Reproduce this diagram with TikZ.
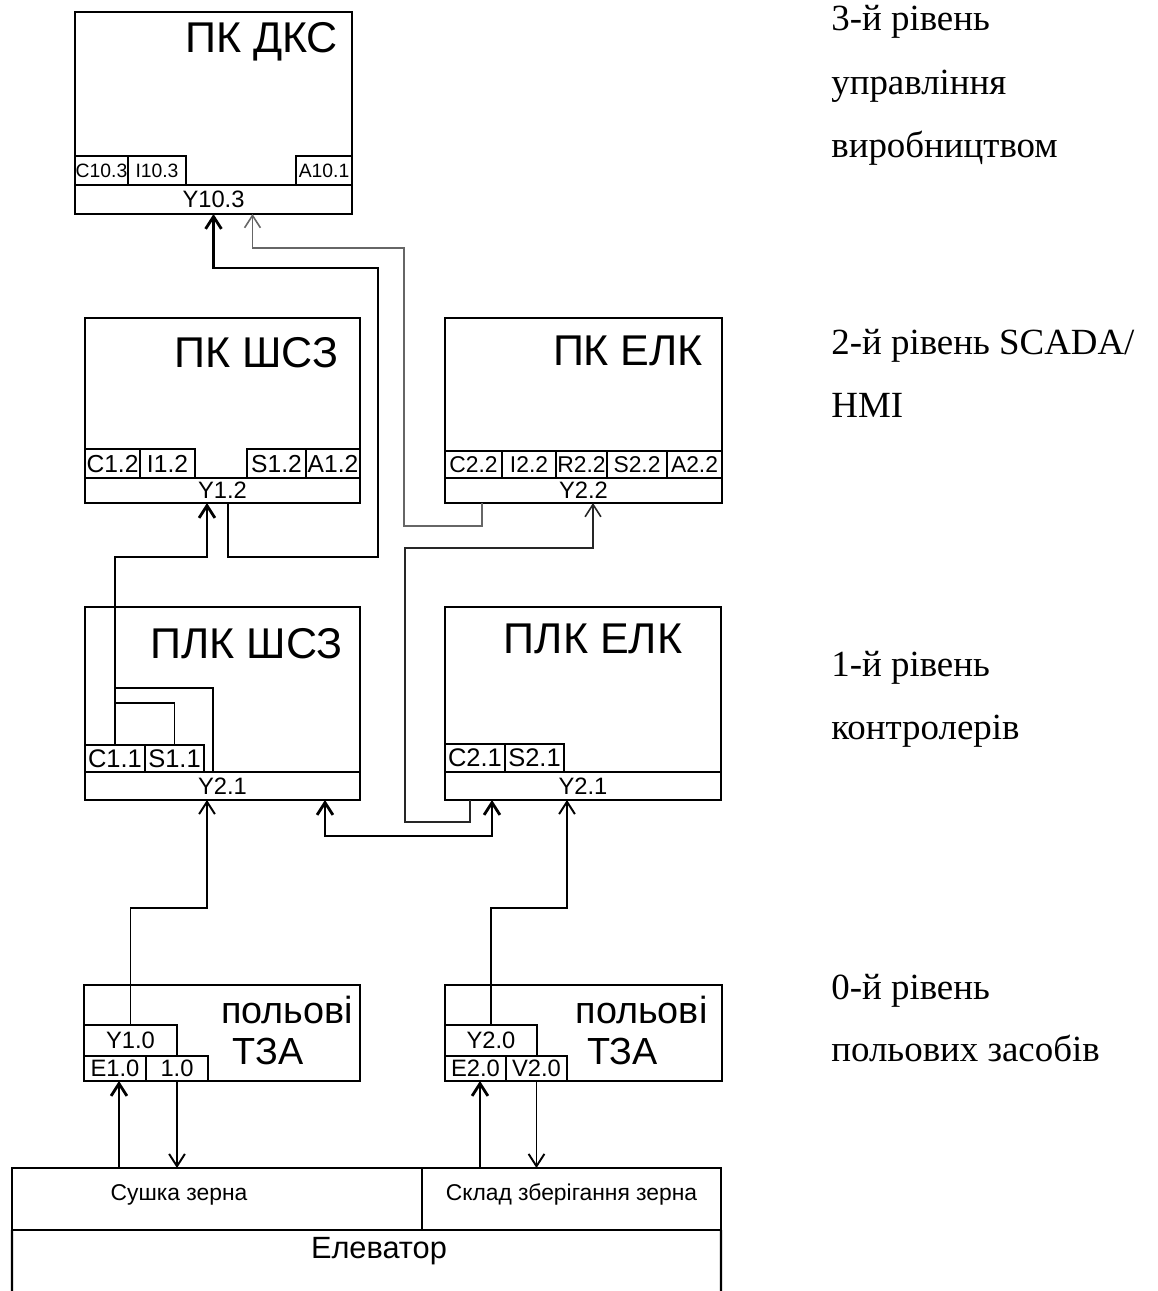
\documentclass[tikz,border=0pt]{standalone}
\usepackage{fontspec}
\setmainfont{Liberation Serif}
\setsansfont{Liberation Sans}
\usetikzlibrary{arrows.meta,positioning,calc}

\newcommand\unitpx{0.02cm}

\begin{document}
\begin{tikzpicture}[x=0.02cm,y=-0.02cm]
  \tikzset{
    box/.style={draw,line width=1.3pt,anchor=north west,inner sep=0pt,outer sep=0pt},
    cell/.style={draw,line width=1.3pt,anchor=north west,inner sep=0pt,outer sep=0pt,
      text depth=0pt,font=\sffamily\fontsize{13.5}{13.5}\selectfont},
    title/.style={anchor=base,inner sep=0pt,font=\sffamily\fontsize{24.5}{24.5}\selectfont},
    level/.style={anchor=base west,inner sep=0pt,font=\fontsize{21}{21}\selectfont},
    bus/.style={line width=1.6pt,-{Straight Barb[length=7pt,width=9pt]}},
    wire/.style={line width=1.1pt,-{Straight Barb[length=7pt,width=9pt]}},
    grey/.style={line width=0.9pt,gray!80!black,-{Straight Barb[length=7pt,width=9pt]}},
    tap/.style={line width=1.1pt},
  }
  \useasboundingbox (0,0) rectangle (1157,1291);

  % 3-й рівень
  \node[box,minimum width=277*\unitpx,minimum height=202*\unitpx] (dks) at (75,12) {};
  \node[title] (dksT) at (261.5,53) {ПК ДКС};
  \node[cell,minimum width=277*\unitpx,minimum height=29*\unitpx] (dksY) at (75,185) {Y10.3};
  \foreach \n/\t/\x/\w in {c/C10.3/75/53, i/I10.3/128/58, a/A10.1/296/56}
    \node[cell,font=\sffamily\fontsize{11}{11}\selectfont,minimum width=\w*\unitpx,
      minimum height=29*\unitpx] (dks\n) at (\x,156) {\t};

  % 2-й рівень
  \node[box,minimum width=275*\unitpx,minimum height=185*\unitpx] (shs) at (85,318) {};
  \node[title] (shsT) at (256.5,367) {ПК ШСЗ};
  \node[cell,minimum width=275*\unitpx,minimum height=25*\unitpx] (shsY) at (85,478) {Y1.2};
  \foreach \n/\t/\x/\w in {c/C1.2/85/55, i/I1.2/140/55, s/S1.2/247/59, a/A1.2/306/54}
    \node[cell,font=\sffamily\fontsize{14}{14}\selectfont,minimum width=\w*\unitpx,
      minimum height=29*\unitpx] (shs\n) at (\x,449) {\t};

  \node[box,minimum width=277*\unitpx,minimum height=185*\unitpx] (elk) at (445,318) {};
  \node[title] (elkT) at (628,365) {ПК ЕЛК};
  \node[cell,minimum width=277*\unitpx,minimum height=25*\unitpx] (elkY) at (445,478) {Y2.2};
  \foreach \n/\t/\x/\w in {c/C2.2/445/57, i/I2.2/502/54, r/R2.2/556/51, s/S2.2/607/60, a/A2.2/667/55}
    \node[cell,font=\sffamily\fontsize{13}{13}\selectfont,minimum width=\w*\unitpx,
      minimum height=27*\unitpx] (elk\n) at (\x,451) {\t};

  % 1-й рівень
  \node[box,minimum width=275*\unitpx,minimum height=193*\unitpx] (plkS) at (85,607) {};
  \node[title] (plkST) at (246.5,658) {ПЛК ШСЗ};
  \node[cell,minimum width=275*\unitpx,minimum height=28*\unitpx] (plkSY) at (85,772) {Y2.1};
  \foreach \n/\t/\x/\w in {c/C1.1/85/60, s/S1.1/145/59}
    \node[cell,font=\sffamily\fontsize{14.5}{14.5}\selectfont,minimum width=\w*\unitpx,
      minimum height=27*\unitpx] (plkS\n) at (\x,745) {\t};

  \node[box,minimum width=276*\unitpx,minimum height=193*\unitpx] (plkE) at (445,607) {};
  \node[title] (plkET) at (593,653) {ПЛК ЕЛК};
  \node[cell,minimum width=276*\unitpx,minimum height=28*\unitpx] (plkEY) at (445,772) {Y2.1};
  \foreach \n/\t/\x/\w in {c/C2.1/445/60, s/S2.1/505/59}
    \node[cell,font=\sffamily\fontsize{14.5}{14.5}\selectfont,minimum width=\w*\unitpx,
      minimum height=28*\unitpx] (plkE\n) at (\x,744) {\t};

  % 0-й рівень
  \node[box,minimum width=276*\unitpx,minimum height=96*\unitpx] (tzaL) at (84,985) {};
  \node[title,font=\sffamily\fontsize{21.5}{21.5}\selectfont] (tzaLT) at (287,1023) {польові};
  \node[title,font=\sffamily\fontsize{21.5}{21.5}\selectfont] (tzaLT2) at (268,1064) {ТЗА};
  \node[cell,minimum width=93*\unitpx,minimum height=31*\unitpx] (tzaLy) at (84,1025) {Y1.0};
  \node[cell,minimum width=62*\unitpx,minimum height=25*\unitpx] (tzaLe) at (84,1056) {E1.0};
  \node[cell,minimum width=62*\unitpx,minimum height=25*\unitpx] (tzaLv) at (146,1056) {1.0};

  \node[box,minimum width=277*\unitpx,minimum height=96*\unitpx] (tzaR) at (445,985) {};
  \node[title,font=\sffamily\fontsize{21.5}{21.5}\selectfont] (tzaRT) at (641.5,1023) {польові};
  \node[title,font=\sffamily\fontsize{21.5}{21.5}\selectfont] (tzaRT2) at (622.5,1064) {ТЗА};
  \node[cell,minimum width=92*\unitpx,minimum height=31*\unitpx] (tzaRy) at (445,1025) {Y2.0};
  \node[cell,minimum width=61*\unitpx,minimum height=25*\unitpx] (tzaRe) at (445,1056) {E2.0};
  \node[cell,minimum width=61*\unitpx,minimum height=25*\unitpx] (tzaRv) at (506,1056) {V2.0};

  % об'єкт
  \node[cell,minimum width=410*\unitpx,minimum height=62*\unitpx] (dry) at (12,1168) {};
  \node[cell,minimum width=299*\unitpx,minimum height=62*\unitpx] (store) at (422,1168) {};
  \node[anchor=base,inner sep=0pt,font=\sffamily\fontsize{13}{13}\selectfont] (dryT)
    at (179,1200) {Сушка зерна};
  \node[anchor=base,inner sep=0pt,font=\sffamily\fontsize{13}{13}\selectfont] (storeT)
    at (571.5,1200) {Склад зберігання зерна};
  \draw[line width=1.3pt] (dry.south west) -- (12,1291) (store.south east) -- (721,1291);
  \node[anchor=base,inner sep=0pt,font=\sffamily\fontsize{17.5}{17.5}\selectfont] (elev)
    at (379,1258) {Елеватор};

  % рівні
  \node[level] (l3a) at (831,31) {3-й рівень};
  \node[level] (l3b) at (831,94) {управління};
  \node[level] (l3c) at (831,157) {виробництвом};
  \node[level] (l2a) at (831,354) {2-й рівень SCADA/};
  \node[level] (l2b) at (831,417) {HMI};
  \node[level] (l1a) at (831,676) {1-й рівень};
  \node[level] (l1b) at (831,739) {контролерів};
  \node[level] (l0a) at (831,999) {0-й рівень};
  \node[level] (l0b) at (831,1061) {польових засобів};

  % точки з'єднань
  \coordinate (dksIn1) at (dksY.south);
  \coordinate (dksIn2) at ([xshift=39*\unitpx]dksY.south);
  \coordinate (shsIn) at ([xshift=-15.5*\unitpx]shsY.south);
  \coordinate (shsOut) at ([xshift=5.5*\unitpx]shsY.south);
  \coordinate (elkOut) at ([xshift=-101.5*\unitpx]elkY.south);
  \coordinate (elkIn) at ([xshift=9.5*\unitpx]elkY.south);
  \coordinate (plkSIn) at ([xshift=-15.5*\unitpx]plkSY.south);
  \coordinate (plkSbus) at ([xshift=102.5*\unitpx]plkSY.south);
  \coordinate (plkEOut) at ([xshift=-113*\unitpx]plkEY.south);
  \coordinate (plkEbus) at ([xshift=-91*\unitpx]plkEY.south);
  \coordinate (plkEIn) at ([xshift=-16*\unitpx]plkEY.south);
  \coordinate (eL) at ([xshift=4*\unitpx]tzaLe.south);
  \coordinate (eR) at ([xshift=4.5*\unitpx]tzaRe.south);

  % зв'язки
  \draw[bus] (shsOut) -- ++(0,54) -| (378,268) -| (dksIn1);
  \draw[grey] (elkOut) -- ++(0,23) -| (404,248) -| (dksIn2);
  \draw[bus] (plkSc.north) -- ++(0,-188) -| (shsIn);
  \draw[tap] (plkSc.north) ++(0,-57) -| ([xshift=-9.5*\unitpx]plkSY.north);
  \draw[tap] (plkSc.north) ++(0,-42) -| (plkSs.north);
  \draw[grey,black!85] (plkEOut) -- ++(0,22) -| (405,548) -| (elkIn);
  \draw[bus,{Straight Barb[length=7pt,width=9pt]}-{Straight Barb[length=7pt,width=9pt]}]
    (plkSbus) -- ++(0,36) -| (plkEbus);
  \draw[wire] (tzaLy.north) -- ++(0,-117) -| (plkSIn);
  \draw[wire] (tzaRy.north) -- ++(0,-117) -| (plkEIn);
  \draw[bus] (dry.north -| eL) -- (eL);
  \draw[wire] (tzaLv.south) -- (dry.north -| tzaLv.south);
  \draw[bus] (store.north -| eR) -- (eR);
  \draw[wire] (tzaRv.south) -- (store.north -| tzaRv.south);
\end{tikzpicture}
\end{document}
